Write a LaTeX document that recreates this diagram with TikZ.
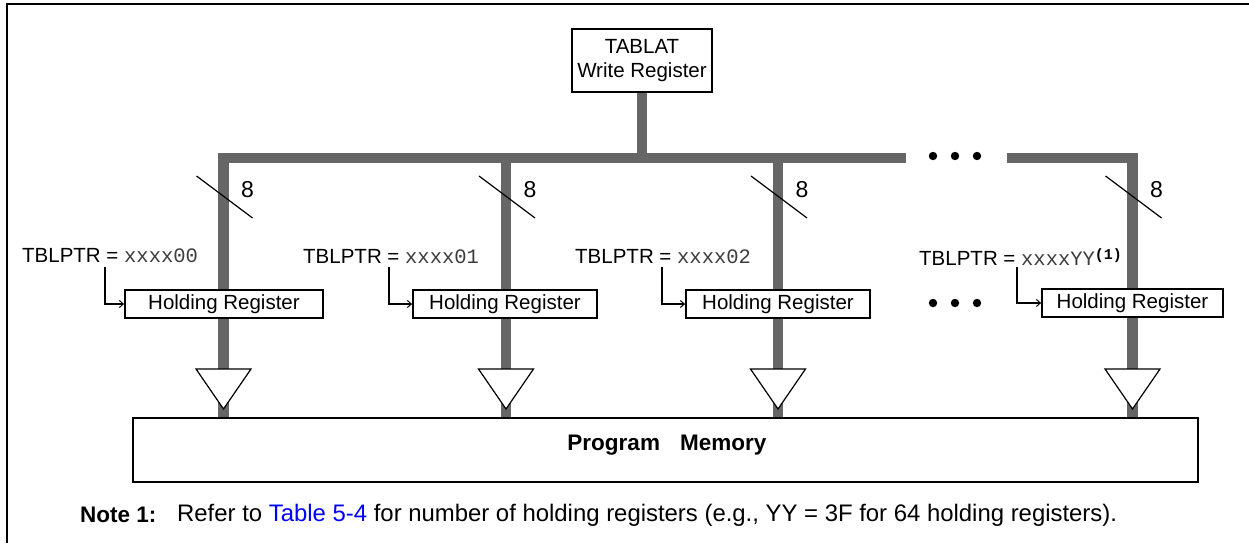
\documentclass[tikz,border=0pt]{standalone}
\usepackage{fontspec}
\setmainfont{Liberation Sans}
\setmonofont{Liberation Mono}
\usetikzlibrary{arrows.meta,calc,backgrounds}
\definecolor{busgray}{RGB}{102,102,102}
\definecolor{linkblue}{RGB}{0,0,255}
\definecolor{monogray}{RGB}{60,60,60}
\newcommand{\regval}[1]{{\color{monogray}\ttfamily #1}}
\begin{document}
\begin{tikzpicture}[x=1pt,y=-1pt,
  every node/.style={font=\fontsize{20.5}{24}\selectfont},
  bus/.style={line width=10.5pt, draw=busgray, line join=miter},
  frameline/.style={line width=2pt},
  box/.style={draw, fill=white, line width=1.8pt, inner sep=2pt, minimum height=28pt},
  slashline/.style={line width=1.2pt},
  buff/.style={draw, line width=1.2pt, fill=white, line join=miter},
  elbow/.style={line width=1.8pt, -{Straight Barb[length=4pt,width=7pt,line width=1pt]}},
  dot/.style={fill=black},
  lbl/.style={anchor=west, inner sep=0pt},
  bits/.style={font=\fontsize{23}{24}\selectfont, inner sep=0pt}
]
\useasboundingbox (0,0) rectangle (1249,543);
% frame
\draw[frameline] (7,543) -- (7,4) -- (1249,4);

% TABLAT
\node[draw, fill=white, line width=1.8pt, minimum width=140pt, minimum height=63pt, align=center, inner sep=2pt] (tab) at (642,60.5) {TABLAT\\Write Register};

% program memory
\node[draw, fill=white, line width=1.8pt, minimum width=1065pt, minimum height=64pt, inner sep=0pt] (mem) at (665.5,450) {};
\node[font=\fontsize{22.5}{24}\selectfont\bfseries] (memlbl) at (667,445) {Program\hspace{0.9em}Memory};

% holding registers
\node[box, minimum width=198pt] (hr1) at (224,304) {Holding Register};
\node[box, minimum width=184pt] (hr2) at (505,304) {Holding Register};
\node[box, minimum width=184pt] (hr3) at (778,304) {Holding Register};
\node[box, minimum width=181pt] (hr4) at (1132.5,303) {Holding Register};

% bus
\coordinate (bl) at (223.5,158);
\coordinate (gapL) at (906,158);
\coordinate (gapR) at (1007,158);
\coordinate (b2) at (506,158);
\coordinate (b3) at (778,158);
\coordinate (br) at (1132.5,158);
\begin{scope}[on background layer]
\draw[bus] (tab.south) -- (tab.south |- bl);
\draw[bus] (223.5,418) -- (bl) -- (gapL);
\draw[bus] (gapR) -- (br) -- (1132.5,418);
\draw[bus] (b2) -- (506,418);
\draw[bus] (b3) -- (778,418);
\end{scope}

% buffers (triangles) and bit-width marks
\foreach \x in {223.5,506,778,1132.5}{
  \draw[buff] (\x-27.5,369) -- (\x+27.5,369) -- (\x,409) -- cycle;
  \draw[slashline] (\x-27,176) -- (\x+29,218);
  \node[bits] at (\x+24,190) {8};
}

% dots
\foreach \x in {933,955,977}{
  \fill[dot] (\x,156) circle (4.2pt);
  \fill[dot] (\x,303) circle (4.2pt);
}

% TBLPTR labels
\node[lbl] (l1) at (22,256) {TBLPTR = \regval{xxxx00}};
\node[lbl] (l2) at (303,257) {TBLPTR = \regval{xxxx01}};
\node[lbl] (l3) at (575,257) {TBLPTR = \regval{xxxx02}};
\node[lbl] (l4) at (919,257) {TBLPTR = \regval{xxxxYY}\raisebox{6pt}{\fontsize{15}{15}\selectfont\ttfamily\bfseries (1)}};

\coordinate (e1) at (105,267);
\coordinate (e2) at (389,267);
\coordinate (e3) at (662,267);
\coordinate (e4) at (1017,267);
\draw[elbow] (e1) |- (hr1.west);
\draw[elbow] (e2) |- (hr2.west);
\draw[elbow] (e3) |- (hr3.west);
\draw[elbow] (e4) |- (hr4.west);

% note
\node[lbl, font=\fontsize{22.5}{24}\selectfont\bfseries] (note) at (80,515) {Note 1:};
\node[lbl, font=\fontsize{23.9}{26}\selectfont] (notetext) at (177,515) {Refer to {\color{linkblue}Table 5-4} for number of holding registers (e.g., YY = 3F for 64 holding registers).};
\end{tikzpicture}
\end{document}
